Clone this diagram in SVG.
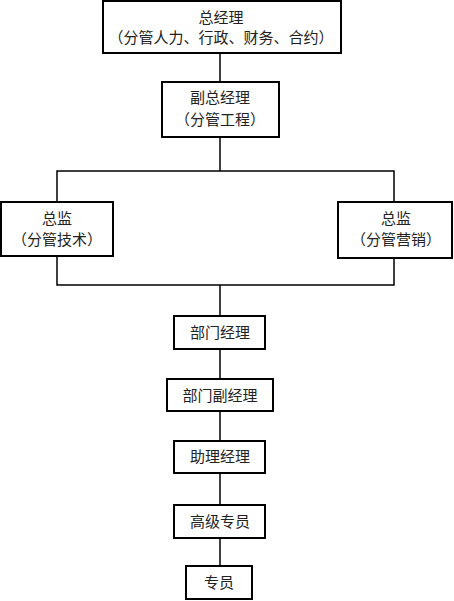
<svg xmlns="http://www.w3.org/2000/svg" width="454" height="601" viewBox="0 0 454 601">
<style>
.b{fill:#fff;stroke:#000;stroke-width:2}
.t{font-family:"Liberation Serif","Noto Sans CJK SC",serif;font-size:15px;fill:#222;text-anchor:middle;dominant-baseline:central}
.c{fill:none;stroke:#000;stroke-width:1.5}
</style>
<rect width="454" height="601" fill="#fff"/>
<g id="connectors">
<line class="c" x1="220" y1="53" x2="220" y2="82"/>
<line class="c" x1="220" y1="137" x2="220" y2="171"/>
<polyline class="c" points="57,202 57,171 394,171 394,202"/>
<polyline class="c" points="57,256 57,285 394,285 394,258"/>
<line class="c" x1="220" y1="285" x2="220" y2="316"/>
<line class="c" x1="220" y1="349" x2="220" y2="379"/>
<line class="c" x1="220" y1="411" x2="220" y2="441"/>
<line class="c" x1="220" y1="473" x2="220" y2="505"/>
<line class="c" x1="220" y1="538" x2="220" y2="566"/>
</g>
<g id="n1"><rect class="b" x="103" y="1" width="238" height="52"/><text class="t" x="221" y="18">总经理</text><text class="t" x="221" y="38">（分管人力、行政、财务、合约）</text></g>
<g id="n2"><rect class="b" x="162" y="82" width="117" height="55"/><text class="t" x="220" y="98">副总经理</text><text class="t" x="220" y="120">（分管工程）</text></g>
<g id="n3"><rect class="b" x="1" y="202" width="112" height="54"/><text class="t" x="57" y="219">总监</text><text class="t" x="57" y="240">（分管技术）</text></g>
<g id="n4"><rect class="b" x="338" y="202" width="114" height="56"/><text class="t" x="396" y="219">总监</text><text class="t" x="396" y="240">（分管营销）</text></g>
<g id="n5"><rect class="b" x="174" y="316" width="91" height="33"/><text class="t" x="220" y="333">部门经理</text></g>
<g id="n6"><rect class="b" x="167" y="379" width="106" height="32"/><text class="t" x="220" y="396">部门副经理</text></g>
<g id="n7"><rect class="b" x="174" y="441" width="91" height="32"/><text class="t" x="220" y="457">助理经理</text></g>
<g id="n8"><rect class="b" x="174" y="505" width="91" height="33"/><text class="t" x="220" y="522">高级专员</text></g>
<g id="n9"><rect class="b" x="186" y="566" width="66" height="33"/><text class="t" x="219" y="583">专员</text></g>
</svg>
